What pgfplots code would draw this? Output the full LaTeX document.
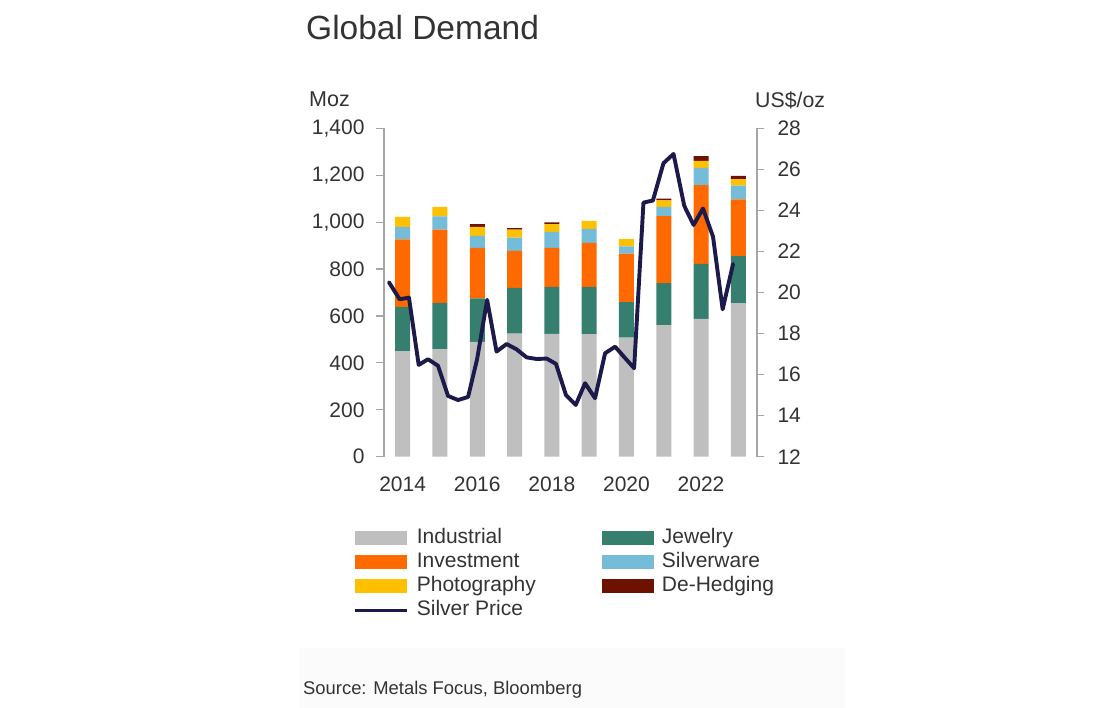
\documentclass[border=0pt]{standalone}
\usepackage{fontspec}
\setmainfont{Liberation Sans}
\usepackage{pgfplots}
\pgfplotsset{compat=1.18}
\definecolor{cInd}{HTML}{BFBFBF}
\definecolor{cJew}{HTML}{367F6F}
\definecolor{cInv}{HTML}{FF6A00}
\definecolor{cSil}{HTML}{74BCD8}
\definecolor{cPho}{HTML}{FFC000}
\definecolor{cDeh}{HTML}{6E1200}
\definecolor{cPrice}{HTML}{1B1A4B}
\definecolor{cTxt}{HTML}{333333}
\definecolor{cAx}{HTML}{A6A6A6}
\definecolor{cBg}{HTML}{FBFBFB}
\begin{document}
\begin{tikzpicture}
\path[use as bounding box] (0pt,0pt) rectangle (1100pt,708pt);
\fill[cBg] (300pt,0pt) rectangle (845pt,60pt);
\node[anchor=base west, text=cTxt, font=\fontsize{33.5}{38}\selectfont, inner sep=0pt] at (306pt,668pt) {Global Demand};
\node[anchor=base west, text=cTxt, font=\fontsize{21.5}{25}\selectfont, inner sep=0pt] at (309pt,601.3pt) {Moz};
\node[anchor=base west, text=cTxt, font=\fontsize{21.3}{25}\selectfont, inner sep=0pt] at (755pt,600.7pt) {US\$/oz};
\node[anchor=base west, text=cTxt, font=\fontsize{18.4}{22}\selectfont, inner sep=0pt] at (303pt,13pt) {Source: Metals Focus, Bloomberg};
\begin{axis}[
  at={(384pt,251.3pt)}, anchor=south west,
  scale only axis, width=373pt, height=328.4pt,
  ybar stacked, bar width=15pt,
  xmin=2013.5, xmax=2023.5, ymin=0, ymax=1400,
  xtick={2014,2016,2018,2020,2022},
  xticklabels={2014,2016,2018,2020,2022},
  ytick={0,200,400,600,800,1000,1200,1400},
  yticklabels={0,200,400,600,800,{1,000},{1,200},{1,400}},
  axis y line*=left, axis x line*=bottom,
  x axis line style={draw=none},
  y axis line style={cAx, line width=1.2pt},
  xtick style={draw=none},
  ytick style={cAx, line width=1.2pt},
  tick align=outside, major tick length=8pt,
  tick label style={font=\fontsize{21}{25}\selectfont, text=cTxt},
  xticklabel style={yshift=-9pt},
  yticklabel style={xshift=-8pt},
  legend columns=2,
  legend cell align=left,
  legend image code/.code={\fill[#1] (0pt,-7pt) rectangle (52pt,7pt);},
  legend style={at={(rel axis cs:-0.083,-0.220)}, anchor=north west,
    draw=none, fill=none, inner sep=0pt, outer sep=0pt,
    font=\fontsize{21}{25}\selectfont, text=cTxt,
    nodes={text height=15pt, text depth=4pt, inner ysep=0pt, inner xsep=8pt},
    row sep=5pt,
    /tikz/every even column/.append style={column sep=58pt}},
]
\addplot[fill=cInd, draw=none] coordinates {(2014,450) (2015,457) (2016,490) (2017,525) (2018,524) (2019,522) (2020,508) (2021,560) (2022,588) (2023,655)};
\addlegendentry{Industrial}
\addplot[fill=cJew, draw=none] coordinates {(2014,189) (2015,199) (2016,185) (2017,195) (2018,200) (2019,202) (2020,151) (2021,180) (2022,234) (2023,200)};
\addlegendentry{Jewelry}
\addplot[fill=cInv, draw=none] coordinates {(2014,287) (2015,312) (2016,215) (2017,157) (2018,166) (2019,187) (2020,207) (2021,286) (2022,336) (2023,242)};
\addlegendentry{Investment}
\addplot[fill=cSil, draw=none] coordinates {(2014,54) (2015,57) (2016,51) (2017,57) (2018,68) (2019,60) (2020,31) (2021,39) (2022,73) (2023,59)};
\addlegendentry{Silverware}
\addplot[fill=cPho, draw=none] coordinates {(2014,42) (2015,40) (2016,39) (2017,34) (2018,33) (2019,34) (2020,31) (2021,28) (2022,30) (2023,27)};
\addlegendentry{Photography}
\addplot[fill=cDeh, draw=none] coordinates {(2014,0) (2015,0) (2016,11) (2017,6) (2018,8) (2019,0) (2020,0) (2021,7) (2022,20) (2023,14)};
\addlegendentry{De-Hedging}
\addlegendimage{legend image code/.code={\draw[cPrice, line width=3.8pt] (0pt,0pt) -- (52pt,0pt);}}
\addlegendentry{Silver Price}
\end{axis}
\begin{axis}[
  at={(384pt,251.3pt)}, anchor=south west,
  scale only axis, width=373pt, height=328.4pt,
  xmin=2013.5, xmax=2023.5, ymin=12, ymax=28,
  axis y line*=right, axis x line=none, xtick=\empty,
  ytick={12,14,16,18,20,22,24,26,28},
  yticklabels={12,14,16,18,20,22,24,26,28},
  y axis line style={cAx, line width=1.2pt},
  ytick style={cAx, line width=1.2pt},
  tick align=outside, major tick length=7pt,
  tick label style={font=\fontsize{21}{25}\selectfont, text=cTxt},
  yticklabel style={xshift=10pt},
]
\addplot[cPrice, line width=3.9pt, line join=round, line cap=round, mark=none] coordinates {
(2013.632,20.50) (2013.919,19.67) (2014.169,19.75) (2014.430,16.47) (2014.680,16.75)
(2014.948,16.43) (2015.217,14.96) (2015.486,14.76) (2015.754,14.91) (2015.996,16.75)
(2016.265,19.64) (2016.517,17.12) (2016.786,17.49) (2017.055,17.23) (2017.323,16.84)
(2017.592,16.76) (2017.861,16.78) (2018.111,16.52) (2018.379,15.00) (2018.640,14.52)
(2018.890,15.58) (2019.158,14.85) (2019.427,17.04) (2019.696,17.36) (2019.951,16.83)
(2020.206,16.31) (2020.456,24.38) (2020.709,24.48) (2020.993,26.30) (2021.262,26.75)
(2021.550,24.22) (2021.800,23.29) (2022.052,24.09) (2022.321,22.72) (2022.579,19.18)
(2022.858,21.39)};
\end{axis}
\end{tikzpicture}
\end{document}
